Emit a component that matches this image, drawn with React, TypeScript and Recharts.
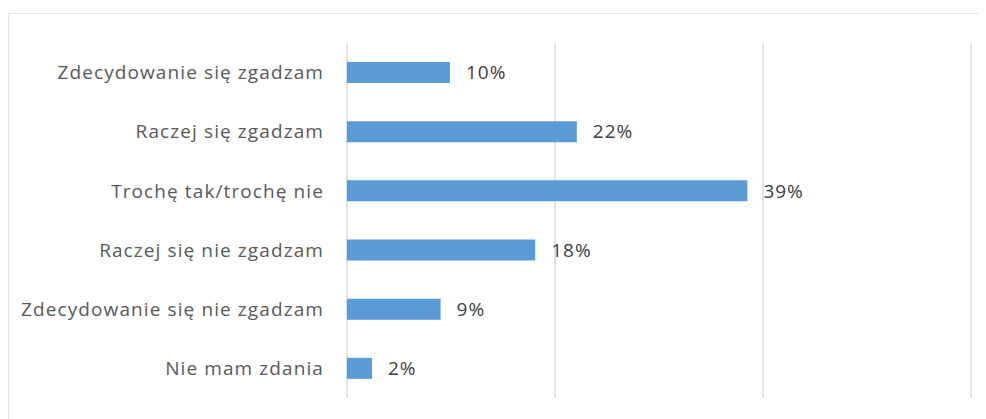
import { Bar, BarChart, CartesianGrid, LabelList, XAxis, YAxis } from "recharts";

// Answer categories, top to bottom, and their share of responses (%).
const categories = [
  "Zdecydowanie się zgadzam",
  "Raczej się zgadzam",
  "Trochę tak/trochę nie",
  "Raczej się nie zgadzam",
  "Zdecydowanie się nie zgadzam",
  "Nie mam zdania",
];
const shares = [9.9, 22.1, 38.5, 18.1, 9.0, 2.4];
const xTicks = [0, 20, 40, 60];

const data = categories.map((name, i) => ({ name, value: shares[i] }));

const FONT = "'Open Sans', sans-serif";

export default function App() {
  return (
    <div style={{ position: "relative", width: 978, height: 411, overflow: "hidden", background: "#fff" }}>
      <div
        style={{
          position: "absolute",
          left: 0,
          top: 5,
          width: 1000,
          height: 500,
          border: "1px solid #e3e3e3",
          boxSizing: "border-box",
        }}
      />
      <div style={{ position: "absolute", left: 0, top: 0 }}>
        <BarChart
          width={978}
          height={411}
          data={data}
          layout="vertical"
          margin={{ top: 35, right: 15, bottom: 21, left: 0 }}
          barCategoryGap={19}
        >
          <CartesianGrid horizontal={false} stroke="#d9d9d9" strokeWidth={1.5} />
          <XAxis
            type="number"
            domain={[0, 60]}
            ticks={xTicks}
            interval={0}
            tick={{ fill: "transparent", fontSize: 1 }}
            axisLine={false}
            tickLine={false}
            height={0}
          />
          <YAxis
            type="category"
            dataKey="name"
            width={339}
            axisLine={false}
            tickLine={false}
            tickSize={0}
            tickMargin={23}
            tick={{ fill: "#595959", fontSize: 19, fontFamily: FONT, letterSpacing: 1.1 }}
          />
          <Bar dataKey="value" fill="#5b9bd5" barSize={21} isAnimationActive={false}>
            <LabelList
              dataKey="value"
              position="right"
              offset={16}
              formatter={(v: any) => `${Math.round(Number(v))}%`}
              style={{ fill: "#404040", fontSize: 19, fontFamily: FONT, letterSpacing: 1 }}
            />
          </Bar>
        </BarChart>
      </div>
    </div>
  );
}
